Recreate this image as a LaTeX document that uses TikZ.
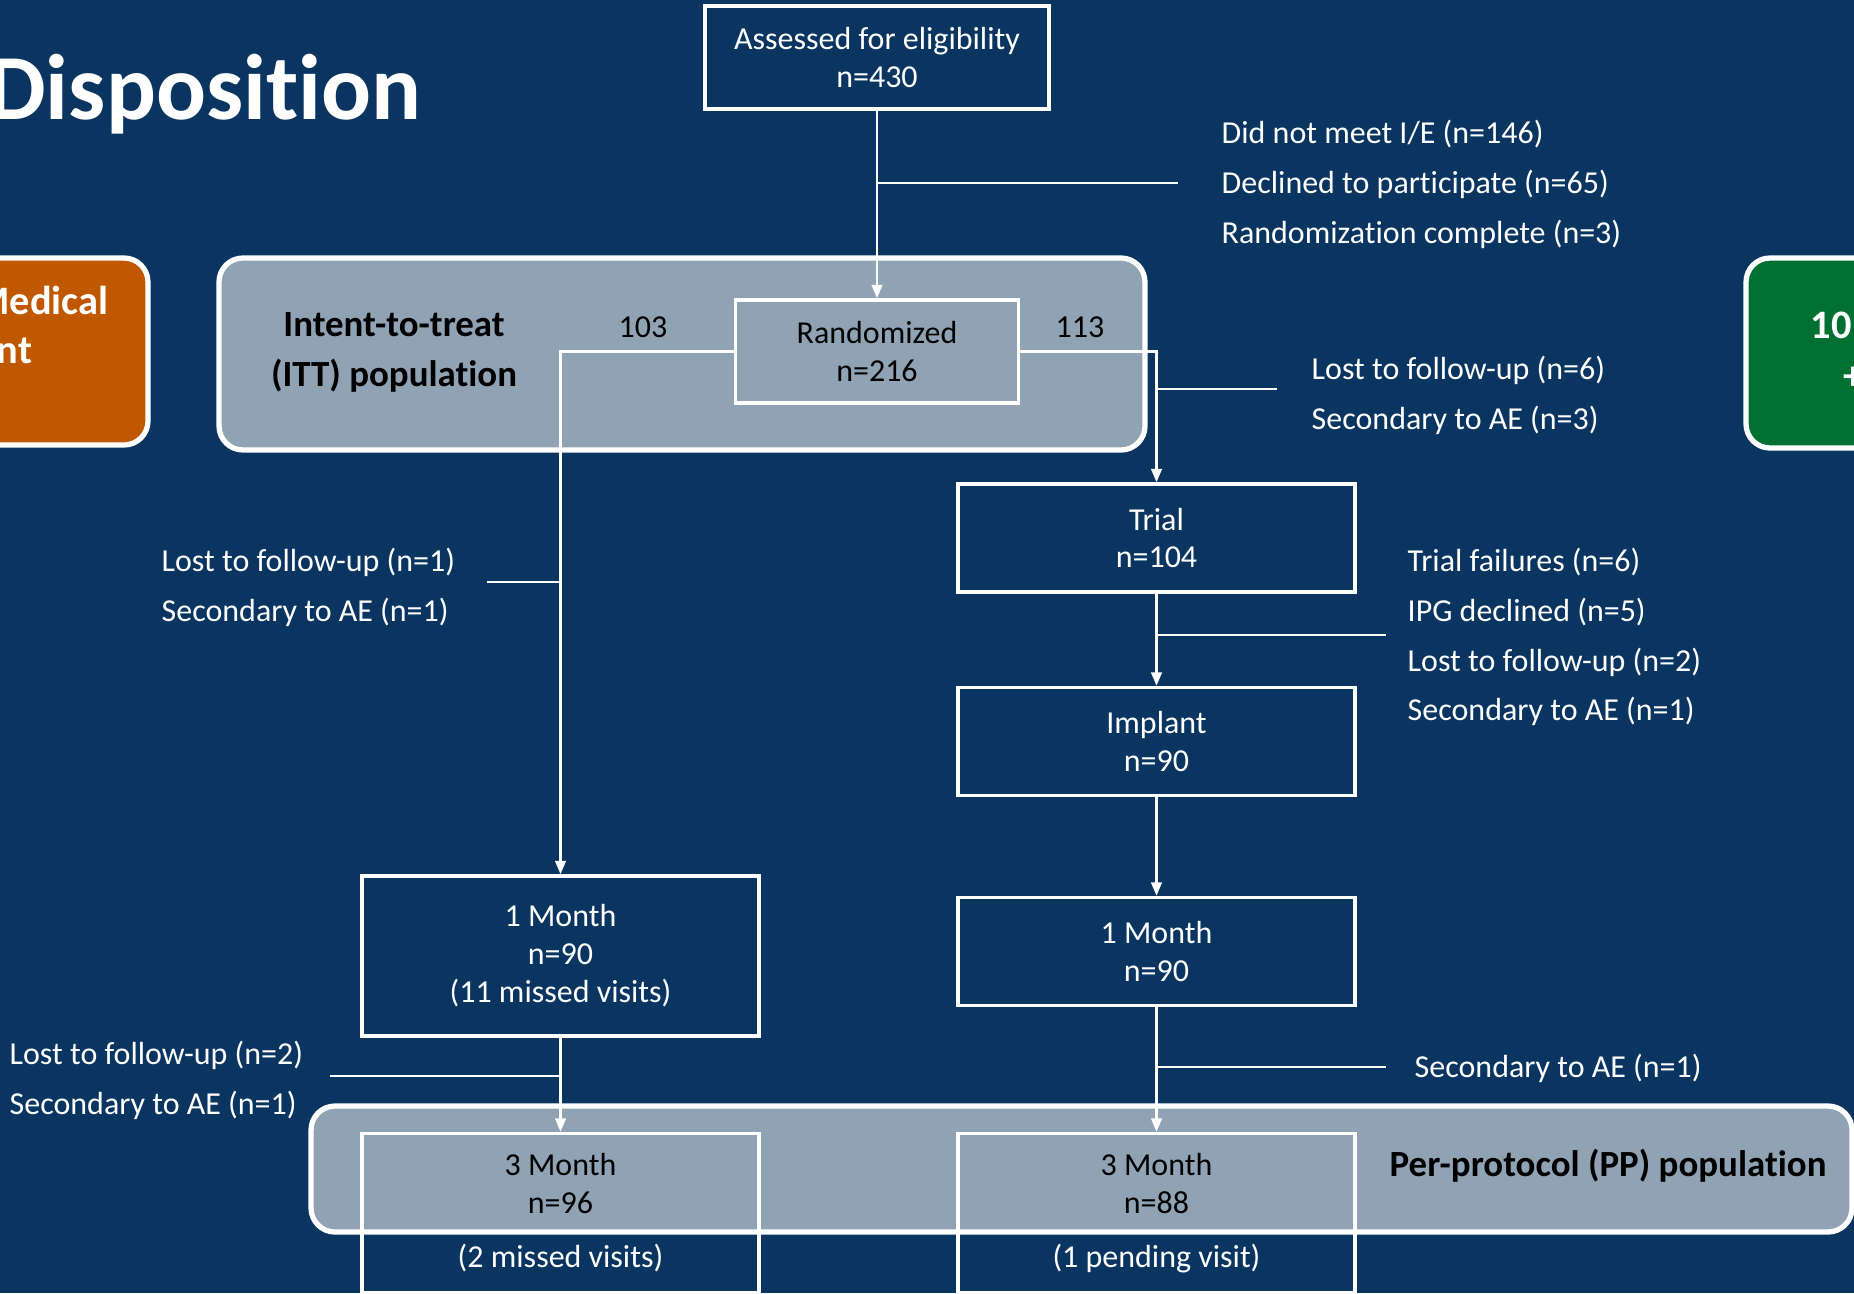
\documentclass[tikz,border=0pt]{standalone}
\usepackage{fontspec}
\setmainfont{Carlito}[Ligatures=NoCommon]
\usepackage{xcolor}
\usetikzlibrary{arrows.meta}
\usetikzlibrary{positioning}
\definecolor{slidebg}{RGB}{10,53,96}
\definecolor{popgray}{RGB}{143,163,180}
\definecolor{cmmorange}{RGB}{192,88,0}
\definecolor{scsgreen}{RGB}{3,112,51}
\tikzset{
	flowbox/.style={draw=white, line width=1pt, inner sep=0pt, align=center, text=white,
		font=\fontsize{9.1}{10.8}\selectfont},
	widebox/.style={flowbox, minimum width=3.97cm, minimum height=1.08cm},
	sidenote/.style={anchor=west, align=left, inner sep=0pt, text=white,
		font=\fontsize{9.1}{14.2}\selectfont},
	poplabel/.style={align=center, inner sep=0pt, text=black,
		font=\bfseries\fontsize{10.5}{14.2}\selectfont},
	armlabel/.style={inner sep=0pt, text=white, font=\bfseries\fontsize{11.5}{14}\selectfont},
	flowline/.style={draw=white, line width=0.7pt},
	flowarrow/.style={flowline, -{Triangle[width=3pt,length=3.8pt]}},
	popframe/.style={draw=white, line width=1.5pt, rounded corners=0.24cm}
}

\begin{document}
\begin{tikzpicture}
	\useasboundingbox (0,0) rectangle (18.54,-12.93);
	\fill[slidebg] (0,0) rectangle (18.54,-12.93);
	\clip (0,0) rectangle (18.54,-12.93);

	% Title
	\node[anchor=base east, inner sep=0pt, text=white, font=\bfseries\fontsize{26.5}{32}\selectfont] (title) at (4.22,-1.19) {Disposition};

	% side arms (cut off by the slide edge)
	\filldraw[popframe, fill=cmmorange] (-0.3,-2.58) rectangle (1.48,-4.45);
	\node[armlabel, anchor=east] (cmmtop) at (1.09,-3.00) {Medical};
	\node[armlabel, anchor=east] (cmmbot) at (0.33,-3.51) {nt};
	\filldraw[popframe, fill=scsgreen] (17.46,-2.58) rectangle (19.2,-4.48);
	\node[armlabel, anchor=west] (scstop) at (18.10,-3.25) {10};
	\node[armlabel, anchor=west] (scsbot) at (18.43,-3.78) {+};

	% populations
	\filldraw[popframe, fill=popgray] (2.19,-2.58) rectangle (11.45,-4.50);
	\filldraw[popframe, fill=popgray] (3.11,-11.06) rectangle (18.52,-12.32);
	\node[poplabel] (itt) at (3.94,-3.52) {Intent-to-treat\\(ITT) population};
	\node[poplabel] (pp) at (16.08,-11.66) {Per-protocol (PP) population};

	% Screening
	\node[flowbox, minimum width=3.44cm, minimum height=1.03cm] (assess) at (8.77,-0.575) {Assessed for eligibility\\n=430};
	\node[flowbox, text=black, minimum width=2.83cm, minimum height=1.03cm] (rand) at (8.77,-3.515) {Randomized\\n=216};
	\node[inner sep=0pt, font=\fontsize{9.1}{10.8}\selectfont] (armL) at (6.43,-3.27) {103};
	\node[inner sep=0pt, font=\fontsize{9.1}{10.8}\selectfont] (armR) at (10.80,-3.27) {113};

	% left arm
	\node[flowbox, minimum width=3.97cm, minimum height=1.60cm] (monthL) at (5.605,-9.56) {1 Month\\n=90\\(11 missed visits)};
	\node[flowbox, minimum width=3.97cm, minimum height=1.59cm] (threeL) at (5.605,-12.13) {\textcolor{black}{3 Month}\\\textcolor{black}{n=96}\\[4.6pt](2 missed visits)};

	% right arm
	\node[widebox] (trial) at (11.565,-5.38) {Trial\\n=104};
	\node[widebox] (implant) at (11.565,-7.415) {Implant\\n=90};
	\node[widebox] (monthR) at (11.565,-9.515) {1 Month\\n=90};
	\node[flowbox, minimum width=3.97cm, minimum height=1.59cm] (threeR) at (11.565,-12.13) {\textcolor{black}{3 Month}\\\textcolor{black}{n=88}\\[4.6pt](1 pending visit)};

	% exclusions
	\node[sidenote] (screenout) at (12.21,-1.846) {Did not meet I/E (n=146)\\Declined to participate (n=65)\\Randomization complete (n=3)};
	\node[sidenote] (dropA) at (13.11,-3.955) {Lost to follow-up (n=6)\\Secondary to AE (n=3)};
	\node[sidenote] (dropB) at (1.61,-5.875) {Lost to follow-up (n=1)\\Secondary to AE (n=1)};
	\node[sidenote] (dropC) at (14.07,-6.37) {Trial failures (n=6)\\IPG declined (n=5)\\Lost to follow-up (n=2)\\Secondary to AE (n=1)};
	\node[sidenote] (dropD) at (0.09,-10.80) {Lost to follow-up (n=2)\\Secondary to AE (n=1)};
	\node[sidenote] (dropE) at (14.14,-10.68) {Secondary to AE (n=1)};

	\coordinate (screenend) at (11.78,-1.83);
	\coordinate (dropAend) at (12.77,-3.89);
	\coordinate (dropBend) at (4.87,-5.82);
	\coordinate (dropCend) at (13.86,-6.35);
	\coordinate (dropDend) at (3.30,-10.76);
	\coordinate (dropEend) at (13.86,-10.67);

	% connectors
	\draw[flowarrow] (assess) -- (rand);
	\draw[flowline] (assess.south |- screenend) -- (screenend);
	\draw[flowarrow] (rand.west) -| (monthL.north);
	\draw[flowarrow] (rand.east) -| (trial.north);
	\draw[flowline] (trial.north |- dropAend) -- (dropAend);
	\draw[flowline] (dropBend) -- (monthL.north |- dropBend);
	\draw[flowarrow] (trial) -- (implant);
	\draw[flowline] (trial.south |- dropCend) -- (dropCend);
	\draw[flowarrow] (implant) -- (monthR);
	\draw[flowarrow] (monthL) -- (threeL);
	\draw[flowline] (dropDend) -- (monthL.south |- dropDend);
	\draw[flowarrow] (monthR) -- (threeR);
	\draw[flowline] (monthR.south |- dropEend) -- (dropEend);
\end{tikzpicture}
\end{document}
